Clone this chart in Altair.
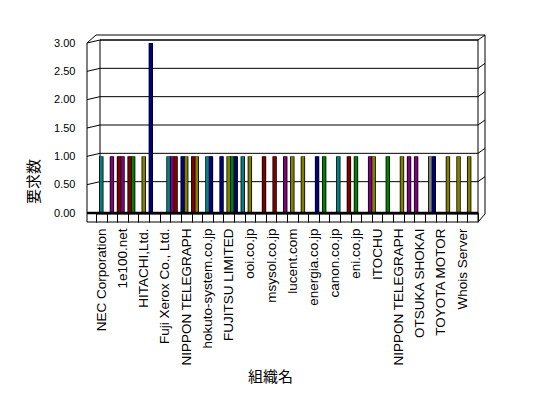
import json
import altair as alt
import pandas as pd

# ---------------- data ----------------
org_labels = [
    "NEC Corporation", "1e100.net", "HITACHI,Ltd.", "Fuji Xerox Co., Ltd.",
    "NIPPON TELEGRAPH", "hokuto-system.co.jp", "FUJITSU LIMITED", "ooi.co.jp",
    "msysol.co.jp", "lucent.com", "energia.co.jp", "canon.co.jp", "eni.co.jp",
    "ITOCHU", "NIPPON TELEGRAPH", "OTSUKA SHOKAI", "TOYOTA MOTOR", "Whois Server",
]
n_categories = 36          # labels are shown on every other category
series_slots = [0, 1, 2]   # bar positions inside one category

bar_category = [0, 1, 2, 2, 3, 3, 4, 5, 6, 7, 7, 8, 8, 9, 9, 10, 10, 11, 12, 12,
                13, 13, 14, 15, 16, 17, 18, 19, 20, 21, 22, 23, 24, 25, 26, 27,
                28, 29, 30, 31, 31, 33, 34, 35]
bar_slot = [1, 1, 0, 1, 0, 1, 1, 0, 2, 0, 1, 0, 1, 0, 1, 1, 2, 2, 1, 2,
            0, 2, 1, 2, 2, 2, 1, 1, 2, 1, 2, 2, 1, 2, 0, 1,
            2, 1, 0, 1, 2, 0, 0, 0]
bar_value = [1, 1, 1, 1, 1, 1, 1, 3, 1, 1, 1, 1, 1, 1, 1, 1, 1, 1, 1, 1,
             1, 1, 1, 1, 1, 1, 1, 1, 1, 1, 1, 1, 1, 1, 1, 1,
             1, 1, 1, 1, 1, 1, 1, 1]
bar_color = ["teal", "purple", "maroon", "purple", "maroon", "green", "olive", "navy",
             "teal", "purple", "maroon", "navy", "olive", "maroon", "olive", "teal",
             "navy", "navy", "olive", "green", "navy", "teal", "olive", "maroon",
             "maroon", "purple", "olive", "olive", "navy", "green", "teal", "maroon",
             "green", "purple", "olive", "green", "olive", "purple", "purple", "gray",
             "navy", "olive", "olive", "olive"]

y_ticks = [0.0, 0.5, 1.0, 1.5, 2.0, 2.5, 3.0]

# ---------------- style ----------------
palette = {
    "teal": "#008080", "purple": "#800080", "maroon": "#800000", "green": "#008000",
    "olive": "#808000", "navy": "#000080", "gray": "#808080",
}
W, H = 382, 170
LABEL_FONT = "Liberation Sans"
CJK_FONT = "Noto Sans CJK JP"

bars_df = pd.DataFrame({"cat": bar_category, "slot": bar_slot,
                        "value": bar_value, "color": bar_color})
grid_df = pd.DataFrame({"value": y_ticks[1:]})

names_js = json.dumps(org_labels)
label_expr = f"datum.value % 2 == 0 ? {names_js}[datum.value / 2] : ''"

y_scale = alt.Scale(domain=[0, 3], nice=False, zero=True)
y_axis = alt.Axis(
    values=y_ticks, format=".2f", domain=False, ticks=False, grid=False,
    labelPadding=21, labelFont=LABEL_FONT, labelFontSize=11, labelColor="black",
    title="要求数", titleX=-63, titleY=138, titleAngle=270, titleAlign="center",
    titleBaseline="middle", titleFont=CJK_FONT, titleFontSize=15,
    titleFontWeight="normal", titleColor="black",
)
y_enc = alt.Y("value:Q", scale=y_scale, axis=y_axis)

x_enc = alt.X(
    "cat:O",
    scale=alt.Scale(domain=list(range(n_categories)), paddingInner=0, paddingOuter=0),
    axis=alt.Axis(
        labelExpr=label_expr, labelAngle=270, labelOverlap=False,
        labelFont=LABEL_FONT, labelFontSize=13.5, labelColor="black",
        labelPadding=6, tickBand="extent", tickSize=9, tickColor="black",
        domain=True, domainColor="black", domainWidth=2, grid=False,
        title="組織名", titleX=174, titleY=163, titleAlign="center",
        titleBaseline="middle", titleAngle=0, titleFont=CJK_FONT,
        titleFontSize=15, titleFontWeight="normal", titleColor="black",
    ),
)
xoff_enc = alt.XOffset("slot:O", scale=alt.Scale(domain=series_slots,
                                                 paddingInner=0, paddingOuter=0))


def seg(x1, y1, x2, y2, w=1.0):
    return alt.Chart(alt.Data(values=[{"k": 0}])).mark_rule(
        color="black", strokeWidth=w
    ).encode(x=alt.value(x1), y=alt.value(y1), x2=alt.value(x2), y2=alt.value(y2))


# back wall grid lines (shifted up-right for depth)
back_grid = alt.Chart(grid_df).mark_rule(color="black", strokeWidth=1, yOffset=-3).encode(
    y=y_enc, x=alt.value(4), x2=alt.value(W)
)
side_grid = alt.Chart(grid_df).mark_rule(color="black", strokeWidth=1, y2Offset=-3).encode(
    y=y_enc, y2=alt.Y2("value"), x=alt.value(-9), x2=alt.value(4)
)
right_grid = alt.Chart(grid_df).mark_rule(color="black", strokeWidth=1, yOffset=-3,
                                          y2Offset=-8).encode(
    y=y_enc, y2=alt.Y2("value"), x=alt.value(W), x2=alt.value(W + 7)
)

# dark side of every column, then its coloured front face
bar_sides = alt.Chart(bars_df).mark_bar(color="black", width=4.4).encode(
    x=x_enc, xOffset=xoff_enc, y=y_enc
)
bar_faces = alt.Chart(bars_df).mark_bar(width=2.8, xOffset=0.6).encode(
    x=x_enc, xOffset=xoff_enc, y=y_enc,
    color=alt.Color("color:N", scale=alt.Scale(domain=list(palette.keys()),
                                               range=list(palette.values())), legend=None),
)

frame_back = [
    seg(4, -3, 4, H),            # back wall left edge
    seg(4, -3, W, -3),           # back wall top
    seg(W, -3, W, H + 9),        # back wall right edge
]
frame_front = [
    seg(-9, 0, -9, H + 9),       # front left edge (value axis line)
    seg(-9, 0, 0, -8),           # top-left diagonal
    seg(0, -8, W + 7, -8),       # outer top
    seg(W + 7, -8, W + 7, H + 1),  # outer right
    seg(W, H + 9, W + 7, H + 1),  # bottom-right diagonal
    seg(-9, H + 9, W, H + 9),    # floor slab bottom
    seg(-9, H, W, H, 2.5),       # floor
]

chart = alt.layer(
    *frame_back, back_grid, side_grid, right_grid, bar_sides, bar_faces, *frame_front
).properties(
    width=W, height=H,
    padding={"left": 88, "top": 35, "right": 62, "bottom": 177},
    autosize=alt.AutoSizeParams(type="none"),
    background="white",
).configure_view(strokeWidth=0)

chart.save("out.html", embed_options={"renderer": "svg", "actions": False})
